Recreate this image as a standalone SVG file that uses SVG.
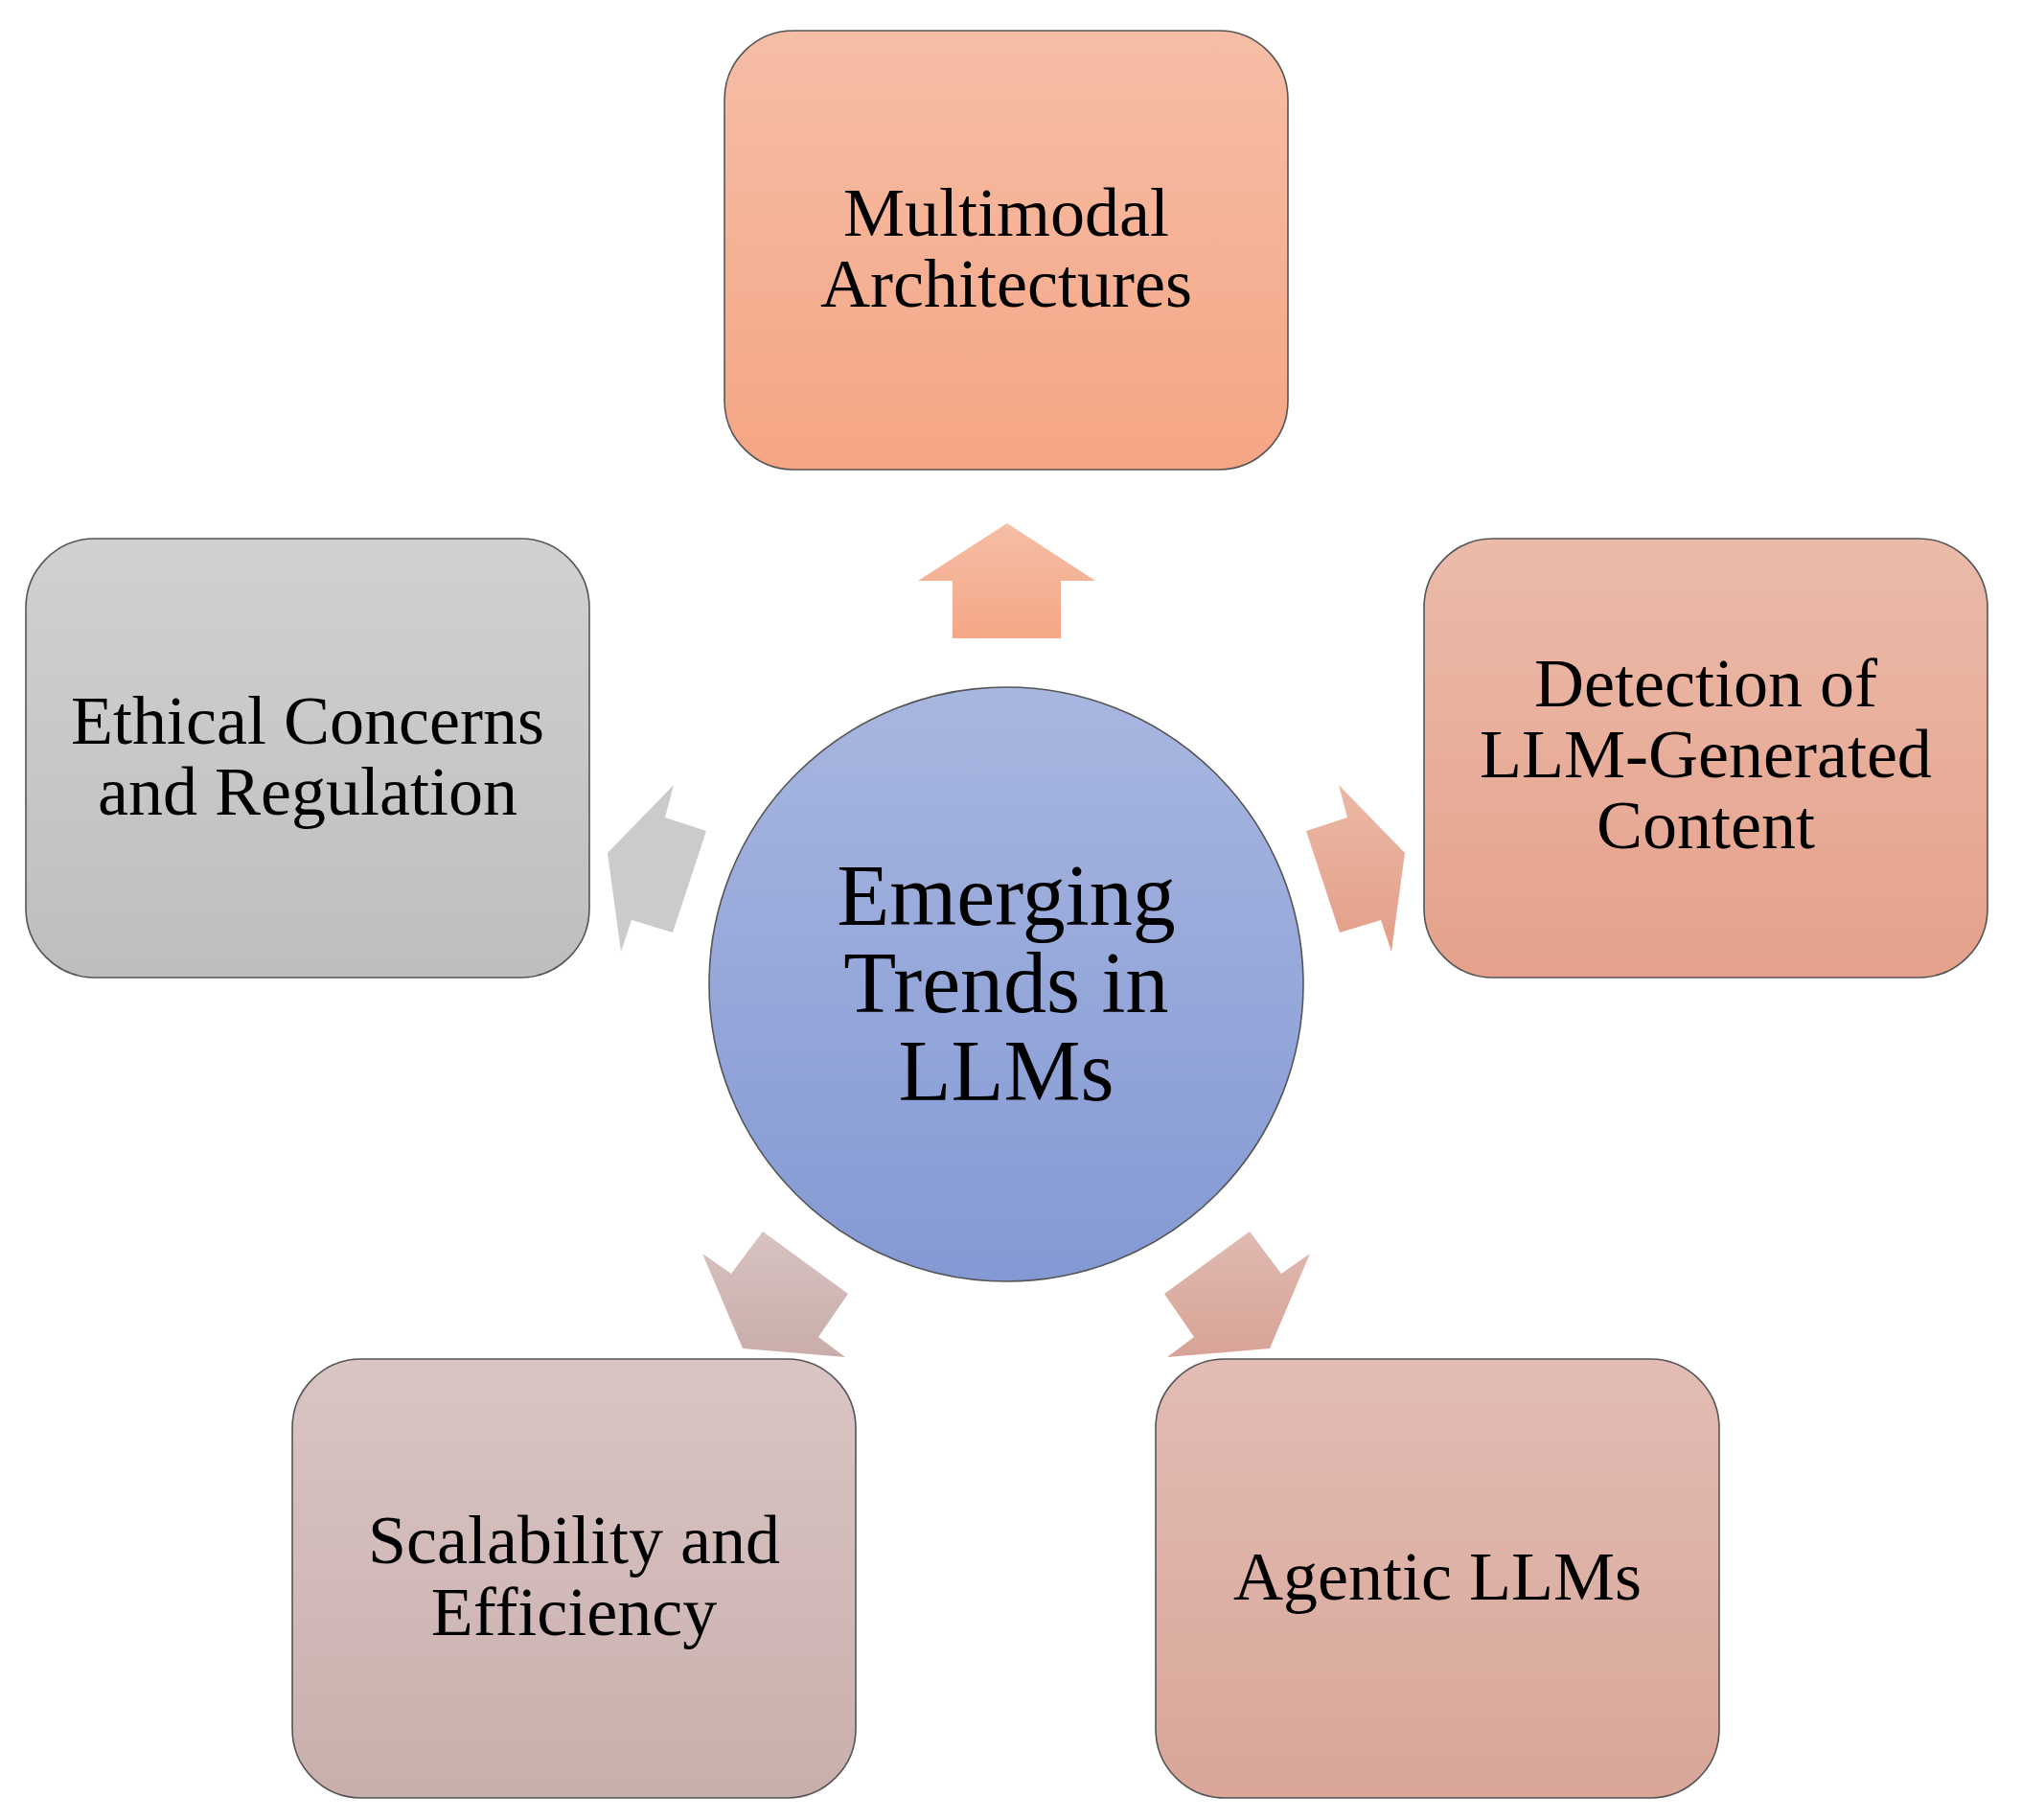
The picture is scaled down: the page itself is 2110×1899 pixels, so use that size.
<svg xmlns="http://www.w3.org/2000/svg" width="2110" height="1899" viewBox="0 0 2110 1899">
<style>
.box{stroke:#555;stroke-width:1.6}
.t{font-family:"Liberation Serif","Times New Roman",serif;font-size:72px;fill:#000;text-anchor:middle}
.tc{font-family:"Liberation Serif","Times New Roman",serif;font-size:90px;fill:#000;text-anchor:middle}
</style>
<defs>
<linearGradient id="gTop" x1="0" y1="0" x2="0" y2="1"><stop offset="0" stop-color="#F6BEA6"/><stop offset="1" stop-color="#F5A584"/></linearGradient>
<linearGradient id="gRight" x1="0" y1="0" x2="0" y2="1"><stop offset="0" stop-color="#EBBBAA"/><stop offset="1" stop-color="#E5A18B"/></linearGradient>
<linearGradient id="gBR" x1="0" y1="0" x2="0" y2="1"><stop offset="0" stop-color="#E2BCB4"/><stop offset="1" stop-color="#D9A698"/></linearGradient>
<linearGradient id="gBL" x1="0" y1="0" x2="0" y2="1"><stop offset="0" stop-color="#D9C5C4"/><stop offset="1" stop-color="#C9AFAC"/></linearGradient>
<linearGradient id="gLeft" x1="0" y1="0" x2="0" y2="1"><stop offset="0" stop-color="#D1D1D1"/><stop offset="1" stop-color="#BEBEBE"/></linearGradient>
<linearGradient id="gC" x1="0" y1="0" x2="0" y2="1"><stop offset="0" stop-color="#A8B7E0"/><stop offset="1" stop-color="#8499D4"/></linearGradient>
<linearGradient id="aTop" gradientUnits="userSpaceOnUse" x1="0" y1="546" x2="0" y2="666"><stop offset="0" stop-color="#F5BEA5"/><stop offset="1" stop-color="#F5A787"/></linearGradient>
<linearGradient id="aRight" gradientUnits="userSpaceOnUse" x1="0" y1="819" x2="0" y2="993"><stop offset="0" stop-color="#EBB8A5"/><stop offset="1" stop-color="#E39F89"/></linearGradient>
<linearGradient id="aBR" gradientUnits="userSpaceOnUse" x1="0" y1="1284" x2="0" y2="1416"><stop offset="0" stop-color="#E0BAB1"/><stop offset="1" stop-color="#D8A396"/></linearGradient>
<linearGradient id="aBL" gradientUnits="userSpaceOnUse" x1="0" y1="1285" x2="0" y2="1416"><stop offset="0" stop-color="#D7C3C1"/><stop offset="1" stop-color="#C9ADAA"/></linearGradient>
</defs>
<g id="connectors">
<polygon points="1051,546 1143,606 1107,606 1107,666 994,666 994,606 958,606" fill="url(#aTop)"/>
<polygon points="1397,819 1406,853 1363,867 1398,973 1441,960 1452,993 1466,890" fill="url(#aRight)"/>
<polygon points="1304,1285 1215,1350 1246,1395 1218,1416 1325,1407 1367,1308 1337,1329" fill="url(#aBR)"/>
<polygon points="796,1285 885,1350 854,1395 882,1416 775,1407 733,1308 763,1329" fill="url(#aBL)"/>
<polygon points="703,819 694,853 737,867 702,973 659,960 648,993 634,890" fill="#CBCBCB"/>
</g>
<g id="center">
<circle cx="1050" cy="1027" r="310" fill="url(#gC)" stroke="#555" stroke-width="1.6"/>
<text class="tc" x="1050" y="965">Emerging</text>
<text class="tc" x="1050" y="1056">Trends in</text>
<text class="tc" x="1050" y="1148">LLMs</text>
</g>
<g id="multimodal">
<rect class="box" x="756" y="32" width="588" height="458" rx="72" fill="url(#gTop)"/>
<text class="t" x="1050" y="246">Multimodal</text>
<text class="t" x="1050" y="320">Architectures</text>
</g>
<g id="detection">
<rect class="box" x="1486" y="562" width="588" height="458" rx="72" fill="url(#gRight)"/>
<text class="t" x="1780" y="737">Detection of</text>
<text class="t" x="1780" y="811">LLM-Generated</text>
<text class="t" x="1780" y="885">Content</text>
</g>
<g id="agentic">
<rect class="box" x="1206" y="1418" width="588" height="458" rx="72" fill="url(#gBR)"/>
<text class="t" x="1500" y="1669">Agentic LLMs</text>
</g>
<g id="scalability">
<rect class="box" x="305" y="1418" width="588" height="458" rx="72" fill="url(#gBL)"/>
<text class="t" x="599" y="1631">Scalability and</text>
<text class="t" x="599" y="1706">Efficiency</text>
</g>
<g id="ethical">
<rect class="box" x="27" y="562" width="588" height="458" rx="72" fill="url(#gLeft)"/>
<text class="t" x="321" y="776">Ethical Concerns</text>
<text class="t" x="321" y="850">and Regulation</text>
</g>
</svg>
